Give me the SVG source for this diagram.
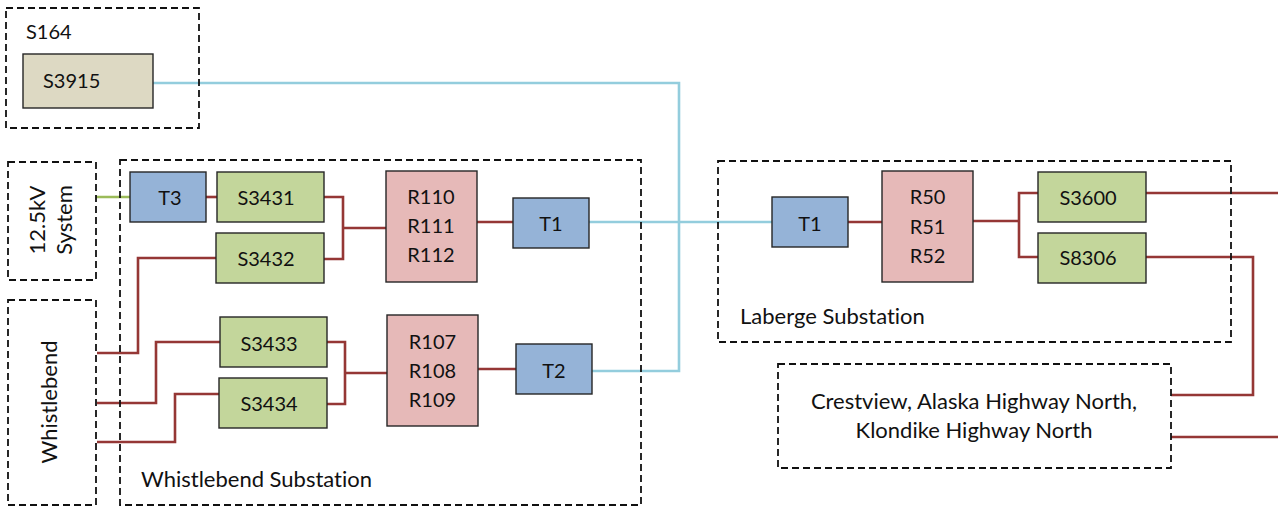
<svg xmlns="http://www.w3.org/2000/svg" width="1278" height="517" viewBox="0 0 1278 517">
  <style>
    text { font-family: Lato, "Open Sans", "Liberation Sans", sans-serif; font-size: 20px; fill: #111; font-variant-ligatures: none; }
    .lbl { font-size: 22px; }
    .c { text-anchor: middle; }
    .area { fill: none; stroke: #111; stroke-width: 1.8; stroke-dasharray: 7 4; }
    .box { stroke: #262626; stroke-width: 1.4; }
    .t { fill: #95B3D7; }
    .s { fill: #C3D69B; }
    .r { fill: #E6B9B8; }
    .src { fill: #DDD9C3; }
    .red { fill: none; stroke: #953735; stroke-width: 2.6; }
    .blue { fill: none; stroke: #93CDDD; stroke-width: 2.6; }
    .green { fill: none; stroke: #9BBB59; stroke-width: 2.6; }
  </style>

  <!-- connectors -->
  <g id="connectors">
    <polyline class="blue" points="153,83 679,83 679,371 592,371"/>
    <polyline class="blue" points="589,222 772,222"/>
    <polyline class="green" points="96,197 130,197"/>
    <polyline class="red" points="206,197 217,197"/>
    <polyline class="red" points="324,197 343,197 343,259 324,259"/>
    <polyline class="red" points="343,228 386,228"/>
    <polyline class="red" points="477,222 513,222"/>
    <polyline class="red" points="97,353 138,353 138,258 216,258"/>
    <polyline class="red" points="97,403 156,403 156,342 220,342"/>
    <polyline class="red" points="97,442 175,442 175,394 219,394"/>
    <polyline class="red" points="327,342 345,342 345,404 327,404"/>
    <polyline class="red" points="345,373 387,373"/>
    <polyline class="red" points="478,369 516,369"/>
    <polyline class="red" points="848,222 882,222"/>
    <polyline class="red" points="973,221 1019,221"/>
    <polyline class="red" points="1038,193 1019,193 1019,257 1038,257"/>
    <polyline class="red" points="1146,193 1278,193"/>
    <polyline class="red" points="1146,257 1253,257 1253,395 1171,395"/>
    <polyline class="red" points="1171,437 1278,437"/>
  </g>

  <!-- dashed areas -->
  <g id="area-s164">
    <rect class="area" x="6" y="8" width="193" height="120"/>
    <text x="26" y="39">S164</text>
  </g>
  <g id="area-12kv">
    <rect class="area" x="8" y="162" width="88" height="118"/>
    <text class="c lbl" transform="translate(45,220) rotate(-90)">12.5kV</text>
    <text class="c lbl" transform="translate(72,220) rotate(-90)">System</text>
  </g>
  <g id="area-whistlebend">
    <rect class="area" x="8" y="300" width="88" height="205"/>
    <text class="c lbl" transform="translate(57,402) rotate(-90)">Whistlebend</text>
  </g>
  <g id="area-whistlebend-substation">
    <rect class="area" x="120" y="160" width="521" height="345"/>
    <text class="lbl" x="141" y="487">Whistlebend Substation</text>
  </g>
  <g id="area-laberge-substation">
    <rect class="area" x="718" y="161" width="513" height="181"/>
    <text class="lbl" x="740" y="324">Laberge Substation</text>
  </g>
  <g id="area-crestview">
    <rect class="area" x="778" y="364" width="393" height="104"/>
    <text class="c lbl" x="974" y="409">Crestview, Alaska Highway North,</text>
    <text class="c lbl" x="974" y="438">Klondike Highway North</text>
  </g>

  <!-- equipment -->
  <g id="S3915">
    <rect class="box src" x="23" y="54" width="130" height="54"/>
    <text x="43" y="88">S3915</text>
  </g>
  <g id="T3">
    <rect class="box t" x="130" y="172" width="76" height="50"/>
    <text class="c" x="170" y="205">T3</text>
  </g>
  <g id="S3431">
    <rect class="box s" x="217" y="172" width="107" height="50"/>
    <text class="c" x="266" y="205">S3431</text>
  </g>
  <g id="S3432">
    <rect class="box s" x="216" y="233" width="108" height="50"/>
    <text class="c" x="266" y="266">S3432</text>
  </g>
  <g id="R110-R112">
    <rect class="box r" x="386" y="171" width="91" height="111"/>
    <text class="c" x="431" y="204">R110</text>
    <text class="c" x="431" y="233">R111</text>
    <text class="c" x="431" y="262">R112</text>
  </g>
  <g id="T1-whistlebend">
    <rect class="box t" x="513" y="198" width="76" height="50"/>
    <text class="c" x="551" y="231">T1</text>
  </g>
  <g id="S3433">
    <rect class="box s" x="220" y="317" width="107" height="50"/>
    <text class="c" x="269" y="351">S3433</text>
  </g>
  <g id="S3434">
    <rect class="box s" x="219" y="378" width="108" height="50"/>
    <text class="c" x="269" y="411">S3434</text>
  </g>
  <g id="R107-R109">
    <rect class="box r" x="387" y="315" width="91" height="111"/>
    <text class="c" x="432.5" y="349">R107</text>
    <text class="c" x="432.5" y="378">R108</text>
    <text class="c" x="432.5" y="407">R109</text>
  </g>
  <g id="T2">
    <rect class="box t" x="516" y="344" width="76" height="50"/>
    <text class="c" x="554" y="378">T2</text>
  </g>
  <g id="T1-laberge">
    <rect class="box t" x="772" y="197" width="76" height="50"/>
    <text class="c" x="810" y="231">T1</text>
  </g>
  <g id="R50-R52">
    <rect class="box r" x="882" y="171" width="91" height="111"/>
    <text class="c" x="927.5" y="204">R50</text>
    <text class="c" x="927.5" y="234">R51</text>
    <text class="c" x="927.5" y="263">R52</text>
  </g>
  <g id="S3600">
    <rect class="box s" x="1038" y="172" width="108" height="50"/>
    <text class="c" x="1088" y="205">S3600</text>
  </g>
  <g id="S8306">
    <rect class="box s" x="1038" y="233" width="108" height="50"/>
    <text class="c" x="1088" y="265">S8306</text>
  </g>
</svg>
